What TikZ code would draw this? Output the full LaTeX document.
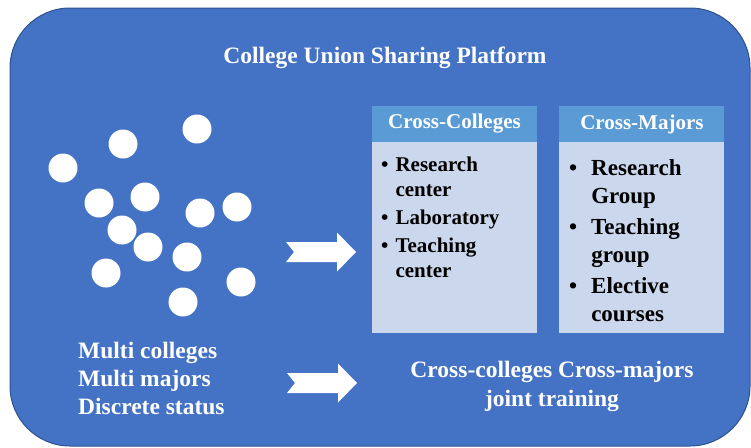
\documentclass[tikz,border=0pt]{standalone}
\usepackage{fontspec}
\setmainfont{Liberation Serif}
\usetikzlibrary{positioning}

\definecolor{platBlue}{HTML}{4472C4}
\definecolor{platEdge}{HTML}{2F528F}
\definecolor{headBlue}{HTML}{5B9BD5}
\definecolor{bodyBlue}{HTML}{CBD7EC}

\begin{document}
\begin{tikzpicture}[
    x=1pt, y=-1pt,
    font=\bfseries,
    platform/.style={
        rectangle, rounded corners=60pt, draw=platEdge, line width=1pt,
        fill=platBlue, minimum width=740pt, minimum height=438pt, inner sep=0pt
    },
    headNode/.style={
        rectangle, fill=headBlue, text=white, minimum width=165pt,
        minimum height=36pt, inner sep=0pt, font=\fontsize{21}{25}\selectfont\bfseries
    },
    bodyNode/.style={
        rectangle, fill=bodyBlue, minimum width=165pt, inner sep=0pt, anchor=north
    },
    itemText/.style={anchor=base west, inner sep=0pt, text=black},
    whiteText/.style={inner sep=0pt, text=white, font=\fontsize{23.5}{28}\selectfont\bfseries},
    dot/.style={circle, fill=white, minimum size=29pt, inner sep=0pt},
    fatArrow/.pic={
        \fill[white] (0,-10) -- (51,-10) -- (51,-19.5) -- (70,0) -- (51,19.5)
            -- (51,10) -- (0,10) -- (8,0) -- cycle;
    }
]
\useasboundingbox (0,0) rectangle (751,447);

% Platform background
\node[platform] (plat) at (380,227) {};
\node[whiteText, anchor=base] (title) at (385,63) {College Union Sharing Platform};

% Left: scattered colleges
\foreach \px/\py [count=\i] in {197/129, 123/144, 63/168, 99/203, 145/197, 200/213,
    237/207, 122/230, 148/247, 187/257, 106/273, 241/282, 183/302}
    \node[dot] (dot\i) at (\px,\py) {};

\node[whiteText, anchor=base west] (status) at (78,358) {%
    \begin{tabular}[t]{@{}l@{}}Multi colleges\\Multi majors\\Discrete status\end{tabular}};

% Cross-Colleges box
\node[headNode] (colHead) at (454.5,124) {Cross-Colleges};
\node[bodyNode, minimum height=191pt] (colBody) at (colHead.south) {};
\node[itemText, font=\fontsize{21}{25}\selectfont\bfseries] (colItems) at (381,171) {%
    \begin{tabular}[t]{@{}l@{\hspace{7pt}}l@{}}
    \textbullet & Research\\ & center\\[3pt]
    \textbullet & Laboratory\\[3pt]
    \textbullet & Teaching\\ & center
    \end{tabular}};

% Cross-Majors box
\node[headNode, right=22pt of colHead] (majHead) {Cross-Majors};
\node[bodyNode, minimum height=191pt] (majBody) at (majHead.south) {};
\node[itemText, font=\fontsize{23}{28}\selectfont\bfseries] (majItems) at (569,175) {%
    \begin{tabular}[t]{@{}l@{\hspace{14pt}}l@{}}
    \textbullet & Research\\ & Group\\[3pt]
    \textbullet & Teaching\\ & group\\[3pt]
    \textbullet & Elective\\ & courses
    \end{tabular}};

% Result
\node[whiteText, anchor=base, font=\fontsize{23.5}{29}\selectfont\bfseries] (joint) at (552,377) {%
    \begin{tabular}[t]{@{}c@{}}Cross-colleges Cross-majors\\joint training\end{tabular}};

% Flows
\pic (arrowTop) at (286,252) {fatArrow};
\pic (arrowBottom) at (287,383) {fatArrow};

\end{tikzpicture}
\end{document}
